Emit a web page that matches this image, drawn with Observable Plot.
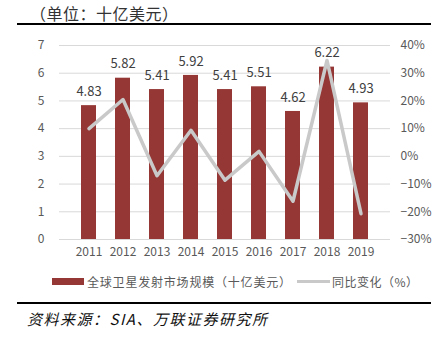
<!DOCTYPE html>
<html><head><meta charset="utf-8">
<script src="https://cdn.jsdelivr.net/npm/d3@7"></script>
<script src="https://cdn.jsdelivr.net/npm/@observablehq/plot@0.6"></script>
<style>
body{margin:0;background:#fff;font-family:"Noto Sans CJK SC","Noto Sans",sans-serif;}
#wrap{position:relative;width:443px;height:338px;overflow:hidden;}
#chart{position:absolute;left:0;top:0;}
.t{position:absolute;white-space:nowrap;}
.hr{position:absolute;background:#000;}
</style></head>
<body><div id="wrap"><div id="chart"></div>
<div class="t" style="left:30px;top:1px;font-size:16px;color:#333;letter-spacing:0.5px;">（单位：十亿美元）</div>
<div class="hr" style="left:17px;top:23px;width:414px;height:2px;"></div>
<div id="legend"></div>
<div class="hr" style="left:17px;top:302px;width:414px;height:2px;"></div>
<div class="t" style="left:27px;top:308px;font-size:15px;font-style:italic;color:#111;letter-spacing:1.5px;">资料来源：SIA、万联证券研究所</div>
</div>
<script>
const years = ["2011","2012","2013","2014","2015","2016","2017","2018","2019"];
const market = [4.83, 5.82, 5.41, 5.92, 5.41, 5.51, 4.62, 6.22, 4.93];
const yoy = [10, 20.5, -7.0, 9.4, -8.6, 1.8, -16.2, 34.6, -20.7];
const leftTicks = [0,1,2,3,4,5,6,7];
const rightTickLabels = ["-30%","-20%","-10%","0%","10%","20%","30%","40%"];
const seriesNames = ["全球卫星发射市场规模（十亿美元）","同比变化（%）"];

const barColor = "#953735";
const lineColor = "#c9c9c9";
const rows = years.map((y,i)=>({year:y, v:market[i], p:yoy[i]}));
// right axis mapped onto left scale: -30%..40% -> 0..7
const toLeft = p => (p + 30) / 10;

const chart = Plot.plot({
  width: 443, height: 338,
  marginTop: 45, marginBottom: 99, marginLeft: 59, marginRight: 53,
  style: {fontFamily: "'Noto Sans CJK SC','Noto Sans',sans-serif", fontSize: "12px", color: "#595959", background: "transparent"},
  x: {domain: years, padding: 0.56, label: null},
  y: {domain: [0, 7], label: null},
  marks: [
    Plot.gridY(leftTicks, {stroke: "#d9d9d9", strokeOpacity: 1}),
    Plot.axisY(leftTicks, {anchor: "left", tickSize: 0, tickPadding: 15, label: null, fontSize: 12, fill: "#595959"}),
    Plot.axisY(leftTicks, {anchor: "right", tickSize: 0, tickPadding: 10, label: null, fontSize: 12, fill: "#595959",
      tickFormat: (d,i) => rightTickLabels[i].replace("-", "\u2212"), textAnchor: "start"}),
    Plot.axisX({tickSize: 0, tickPadding: 8, label: null, fontSize: 12, fill: "#595959"}),
    Plot.barY(rows, {x: "year", y: "v", fill: barColor}),
    Plot.ruleY([0], {stroke: "#d9d9d9"}),
    Plot.line(rows, {x: "year", y: d => toLeft(d.p), stroke: lineColor, strokeWidth: 3.5, curve: "linear"}),
    Plot.text(rows, {x: "year", y: "v", text: d => d.v.toFixed(2), dy: -14, fontSize: 13, fill: "#404040"})
  ]
});
document.getElementById("chart").appendChild(chart);

const lg = document.getElementById("legend");
lg.innerHTML = `
<div style="position:absolute;left:52px;top:278px;width:32px;height:7px;background:${barColor}"></div>
<div class="t" style="left:87px;top:273px;font-size:12px;color:#595959;letter-spacing:0.8px;">${seriesNames[0]}</div>
<div style="position:absolute;left:297px;top:280px;width:33px;height:3px;background:${lineColor}"></div>
<div class="t" style="left:332px;top:273px;font-size:12px;color:#595959;letter-spacing:0.5px;">${seriesNames[1]}</div>`;
</script></body></html>
